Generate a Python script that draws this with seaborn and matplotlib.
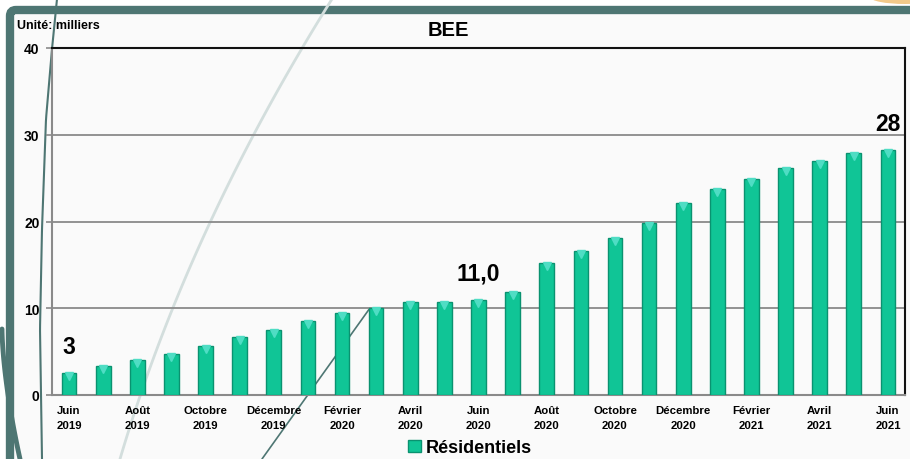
import numpy as np
import pandas as pd
import seaborn as sns
import matplotlib
matplotlib.use('Agg')
import matplotlib.pyplot as plt
from matplotlib.patches import FancyBboxPatch, Ellipse

# data (milliers)
months = ['Juin\n2019', 'Juillet\n2019', 'Août\n2019', 'Septembre\n2019', 'Octobre\n2019',
          'Novembre\n2019', 'Décembre\n2019', 'Janvier\n2020', 'Février\n2020', 'Mars\n2020',
          'Avril\n2020', 'Mai\n2020', 'Juin\n2020', 'Juillet\n2020', 'Août\n2020',
          'Septembre\n2020', 'Octobre\n2020', 'Novembre\n2020', 'Décembre\n2020', 'Janvier\n2021',
          'Février\n2021', 'Mars\n2021', 'Avril\n2021', 'Mai\n2021', 'Juin\n2021']
residentiels = [2.5, 3.4, 4.0, 4.7, 5.6, 6.7, 7.5, 8.5, 9.4, 10.0, 10.7, 10.7, 11.0,
                11.9, 15.2, 16.6, 18.1, 19.8, 22.1, 23.7, 24.9, 26.2, 27.0, 27.9, 28.2]
# labelled bars: index -> text
annotations = {0: '3', 12: '11,0', 24: '28'}
yticks = [0, 10, 20, 30, 40]

sns.set_style('white')
plt.rcParams['font.family'] = ['Liberation Sans', 'DejaVu Sans']
plt.rcParams['font.weight'] = 'bold'
plt.rcParams['text.color'] = 'black'

df = pd.DataFrame({'mois': months, 'valeur': residentiels})

fig = plt.figure(figsize=(9.1, 4.6), dpi=100)
fig.patch.set_facecolor('#FFFFFF')

# background decoration in pixel coordinates
bg = fig.add_axes([0, 0, 1, 1], zorder=0)
bg.set_xlim(0, 910)
bg.set_ylim(460, 0)
bg.axis('off')
frame_col = '#4E7673'
bg.add_patch(FancyBboxPatch((10, 11), 960, 520, boxstyle='round,pad=0,rounding_size=6',
                            facecolor='#FAFAFA', edgecolor=frame_col, linewidth=6))
bg.add_patch(Ellipse((905, -2), 70, 14, facecolor='#F2C98A', edgecolor='none'))
# decorative curves
yy = np.linspace(0, 460, 80)
bg.plot(332 - 0.626 * yy + 0.000359 * yy ** 2, yy, color='#D3DEDD', lw=2)
bg.plot(np.interp(yy, [0, 50, 120, 230, 330, 460], [57, 52, 46, 42, 40, 42]), yy,
        color=frame_col, lw=1.5)
bg.plot([370, 262], [309, 460], color=frame_col, lw=1.2)
t = np.linspace(0, 1, 40)
bg.plot(2 + 18 * t ** 1.6, 330 + 130 * t, color=frame_col, lw=3.5)

ax = fig.add_axes([52 / 910, 1 - 396 / 460, 853 / 910, (396 - 49) / 460], zorder=1)
ax.set_facecolor('none')

sns.barplot(data=df, x='mois', y='valeur', color='#10C596', width=0.43,
            edgecolor='#0A9270', linewidth=1, saturation=1, label='Résidentiels',
            ax=ax, zorder=3)
# bevel highlight on top of bars
ax.plot(range(len(residentiels)), np.array(residentiels) - 0.35, linestyle='none',
        marker='v', markersize=6, color='#4FDDC4', zorder=4)

ax.set_xlim(-0.5, len(months) - 0.5)
ax.set_ylim(0, 40)
ax.set_yticks(yticks)
ax.set_yticklabels([str(v) for v in yticks], fontsize=10, fontweight='bold')
for v in [10, 20, 30]:
    ax.axhline(v, color='#8A8A8A', lw=1.3, zorder=1)

ax.set_xticks(range(0, len(months), 2))
ax.set_xticklabels(months[::2], fontsize=8.2, fontweight='bold', linespacing=1.6)
ax.set_xticks(np.arange(-0.5, len(months), 1), minor=True)
ax.tick_params(axis='x', which='major', length=0, pad=7, labelcolor='black')
ax.tick_params(axis='x', which='minor', length=4, color='#8A8A8A', width=1.2)
ax.tick_params(axis='y', length=4, color='#8A8A8A', width=1.2, pad=5, left=True,
               labelcolor='black')
ax.set_xlabel('')
ax.set_ylabel('')

for side in ['left', 'bottom']:
    ax.spines[side].set_color('#8A8A8A')
    ax.spines[side].set_linewidth(1.5)
for side in ['top', 'right']:
    ax.spines[side].set_color('#111111')
    ax.spines[side].set_linewidth(1.5)

for i, txt in annotations.items():
    ax.text(i, residentiels[i] + 3.1, txt, ha='center', va='center',
            fontsize=16.5, fontweight='bold', color='black')

fig.text(448 / 910, 1 - 31 / 460, 'BEE', fontsize=14.5, fontweight='bold',
         ha='center', va='center')
fig.text(17 / 910, 1 - 26 / 460, 'Unité: milliers', fontsize=9, fontweight='bold',
         va='center', ha='left')

ax.legend(loc='center', bbox_to_anchor=(0.49, -0.152), frameon=False, fontsize=13,
          handlelength=0.7, handleheight=0.7, handletextpad=0.25, borderaxespad=0,
          labelcolor='black')

fig.savefig('out.png', dpi=100, facecolor=fig.get_facecolor())
